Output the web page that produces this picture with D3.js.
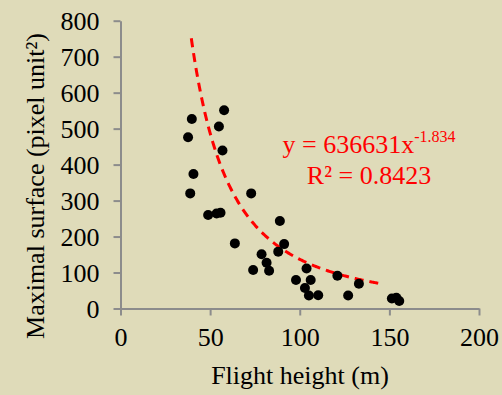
<!DOCTYPE html>
<html>
<head>
<meta charset="utf-8">
<script src="https://cdn.jsdelivr.net/npm/d3@7"></script>
<style>
    html, body { margin: 0; padding: 0; background: #dfdbb9; }
    svg { display: block; }
    text { font-family: "Liberation Serif", "Times New Roman", serif; }
</style>
</head>
<body>
<div id="chart"></div>
<script>
// Flight height (m) and maximal surface (pixel unit²)
const flightHeight = [39.8, 57.8, 37.7, 54.9, 56.9, 40.7, 38.9, 72.9, 48.9, 53.6,
    55.8, 88.9, 63.8, 91.3, 88.0, 78.7, 81.5, 74.0, 82.9, 103.8,
    97.9, 106.1, 102.9, 105.1, 110.3, 121.0, 133.0, 127.0, 151.4, 153.9, 155.5];
const maxSurface = [527, 551, 476, 506, 439, 374, 320, 320, 260, 264,
    266, 243, 181, 179, 158, 151, 127, 107, 105, 111,
    79, 79, 57, 36, 37, 91, 69, 36, 28, 30, 21];

const xTicks = [0, 50, 100, 150, 200];
const yTicks = [0, 100, 200, 300, 400, 500, 600, 700, 800];

// power trendline shown on the chart
const fitA = 636631, fitB = -1.834;
const fitRange = [39.5, 145];

function drawChart() {
    const width = 502, height = 395;
    const svg = d3.select("#chart").append("svg")
        .attr("width", width)
        .attr("height", height);

    svg.append("rect")
        .attr("width", width)
        .attr("height", height)
        .attr("fill", "#dfdbb9");

    const x = d3.scaleLinear().domain([0, 200]).range([120.5, 479]);
    const y = d3.scaleLinear().domain([0, 800]).range([308.5, 20.7]);

    const axisColor = "#8c8c8c";

    // y axis
    const yAxis = svg.append("g")
        .attr("transform", `translate(${x(0)},0)`)
        .call(d3.axisLeft(y).tickValues(yTicks).tickSize(7).tickPadding(14).tickSizeOuter(0));
    // x axis
    const xAxis = svg.append("g")
        .attr("transform", `translate(0,${y(0)})`)
        .call(d3.axisBottom(x).tickValues(xTicks).tickSize(7).tickPadding(12).tickSizeOuter(0));

    [xAxis, yAxis].forEach(ax => {
        ax.attr("font-family", "Liberation Serif").attr("font-size", 26);
        ax.select(".domain").attr("stroke", axisColor).attr("stroke-width", 2);
        ax.selectAll(".tick line").attr("stroke", axisColor).attr("stroke-width", 2);
        ax.selectAll(".tick text").attr("fill", "#000");
    });
    yAxis.selectAll(".tick text").attr("dy", "0.34em");
    xAxis.selectAll(".tick text").attr("dy", "0.72em");

    // axis titles
    svg.append("text")
        .attr("x", 300)
        .attr("y", 384)
        .attr("text-anchor", "middle")
        .style("font-size", "26px")
        .text("Flight height (m)");

    svg.append("text")
        .attr("transform", "translate(44,186) rotate(-90)")
        .attr("text-anchor", "middle")
        .style("font-size", "26px")
        .text("Maximal surface (pixel unit²)");

    // trendline
    const fitX = d3.range(fitRange[0], fitRange[1] + 0.1, 0.5);
    const line = d3.line()
        .x(d => x(d))
        .y(d => y(fitA * Math.pow(d, fitB)));
    svg.append("path")
        .datum(fitX)
        .attr("d", line)
        .attr("fill", "none")
        .attr("stroke", "#ff0000")
        .attr("stroke-width", 3)
        .attr("stroke-dasharray", "9,6");

    // scatter points
    svg.selectAll("circle.pt")
        .data(flightHeight.map((h, i) => ({ h: h, s: maxSurface[i] })))
        .enter().append("circle")
        .attr("class", "pt")
        .attr("cx", d => x(d.h))
        .attr("cy", d => y(d.s))
        .attr("r", 5)
        .attr("fill", "#000");

    // equation
    const eq = svg.append("text")
        .attr("x", 369)
        .attr("y", 153)
        .attr("text-anchor", "middle")
        .attr("fill", "#ff0000")
        .style("font-size", "26px");
    eq.append("tspan").text("y = 636631x");
    eq.append("tspan")
        .attr("dy", -11)
        .style("font-size", "16px")
        .text("-1.834");

    svg.append("text")
        .attr("x", 369)
        .attr("y", 184)
        .attr("text-anchor", "middle")
        .attr("fill", "#ff0000")
        .style("font-size", "26px")
        .text("R² = 0.8423");
}

drawChart();
</script>
</body>
</html>
